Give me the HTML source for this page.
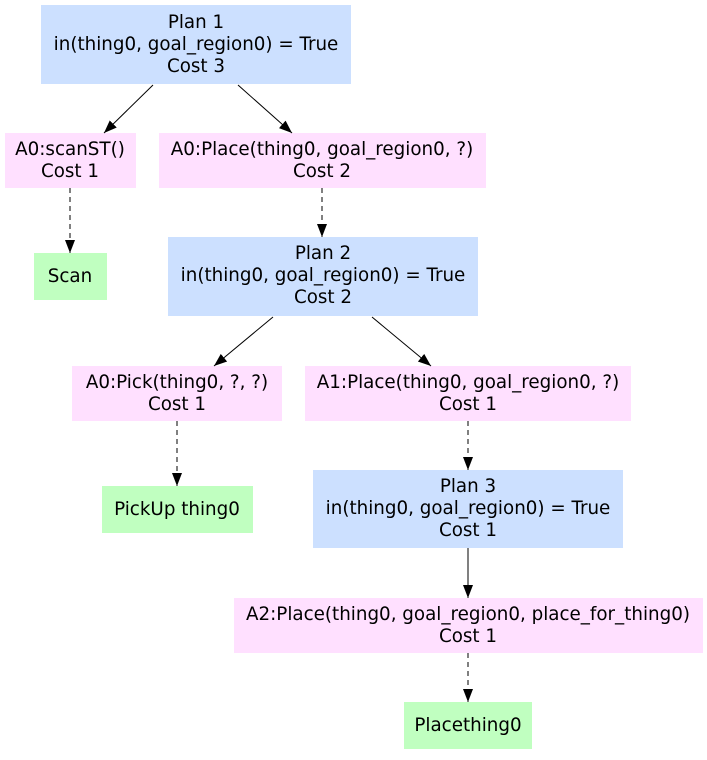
<!DOCTYPE html>
<html><head><meta charset="utf-8"><style>
html,body{margin:0;padding:0;background:#fff;}
svg text{font-family:"DejaVu Sans","Liberation Sans",sans-serif;font-size:18.3px;fill:#000;text-anchor:middle;}
</style></head><body>
<svg width="707" height="755" viewBox="0 0 707 755" xmlns="http://www.w3.org/2000/svg">
<defs><marker id="a" markerWidth="14" markerHeight="12" refX="13" refY="6" orient="auto" markerUnits="userSpaceOnUse"><path d="M0,1 L13,6 L0,11 z" fill="#000"/></marker></defs>
<g fill="#cce0ff">
<rect x="41" y="5" width="310" height="79"/>
<rect x="168" y="237" width="310" height="79"/>
<rect x="313" y="470" width="310" height="78"/>
</g>
<g fill="#ffe0ff">
<rect x="5" y="133" width="131" height="55"/>
<rect x="159" y="133" width="327" height="55"/>
<rect x="72" y="366" width="210" height="55"/>
<rect x="305" y="366" width="326" height="55"/>
<rect x="234" y="598" width="469" height="55"/>
</g>
<g fill="#c0ffc0">
<rect x="34" y="253" width="73" height="47"/>
<rect x="102" y="486" width="151" height="47"/>
<rect x="404" y="702" width="128" height="47"/>
</g>
<g stroke="#000" stroke-width="1" fill="none">
<line x1="153" y1="85" x2="104" y2="133" marker-end="url(#a)"/>
<line x1="238" y1="85" x2="292" y2="133" marker-end="url(#a)"/>
<line x1="70" y1="188" x2="70" y2="253" stroke-dasharray="5,4" marker-end="url(#a)"/>
<line x1="322" y1="188" x2="322" y2="237" stroke-dasharray="5,4" marker-end="url(#a)"/>
<line x1="273" y1="317" x2="214" y2="366" marker-end="url(#a)"/>
<line x1="372" y1="317" x2="431" y2="366" marker-end="url(#a)"/>
<line x1="177" y1="421" x2="177" y2="486" stroke-dasharray="5,4" marker-end="url(#a)"/>
<line x1="468" y1="421" x2="468" y2="470" stroke-dasharray="5,4" marker-end="url(#a)"/>
<line x1="468" y1="548" x2="468" y2="598" marker-end="url(#a)"/>
<line x1="468" y1="653" x2="468" y2="702" stroke-dasharray="5,4" marker-end="url(#a)"/>
</g>
<text x="196" y="28">Plan 1</text>
<text x="196" y="50">in(thing0, goal_region0) = True</text>
<text x="196" y="72">Cost 3</text>
<text x="70" y="155">A0:scanST()</text>
<text x="70" y="177">Cost 1</text>
<text x="322" y="155">A0:Place(thing0, goal_region0, ?)</text>
<text x="322" y="177">Cost 2</text>
<text x="70" y="282">Scan</text>
<text x="323" y="259">Plan 2</text>
<text x="323" y="281">in(thing0, goal_region0) = True</text>
<text x="323" y="303">Cost 2</text>
<text x="177" y="388">A0:Pick(thing0, ?, ?)</text>
<text x="177" y="410">Cost 1</text>
<text x="468" y="388">A1:Place(thing0, goal_region0, ?)</text>
<text x="468" y="410">Cost 1</text>
<text x="177" y="515">PickUp thing0</text>
<text x="468" y="492">Plan 3</text>
<text x="468" y="514">in(thing0, goal_region0) = True</text>
<text x="468" y="536">Cost 1</text>
<text x="468" y="620">A2:Place(thing0, goal_region0, place_for_thing0)</text>
<text x="468" y="642">Cost 1</text>
<text x="468" y="731">Placething0</text>
</svg>
</body></html>
